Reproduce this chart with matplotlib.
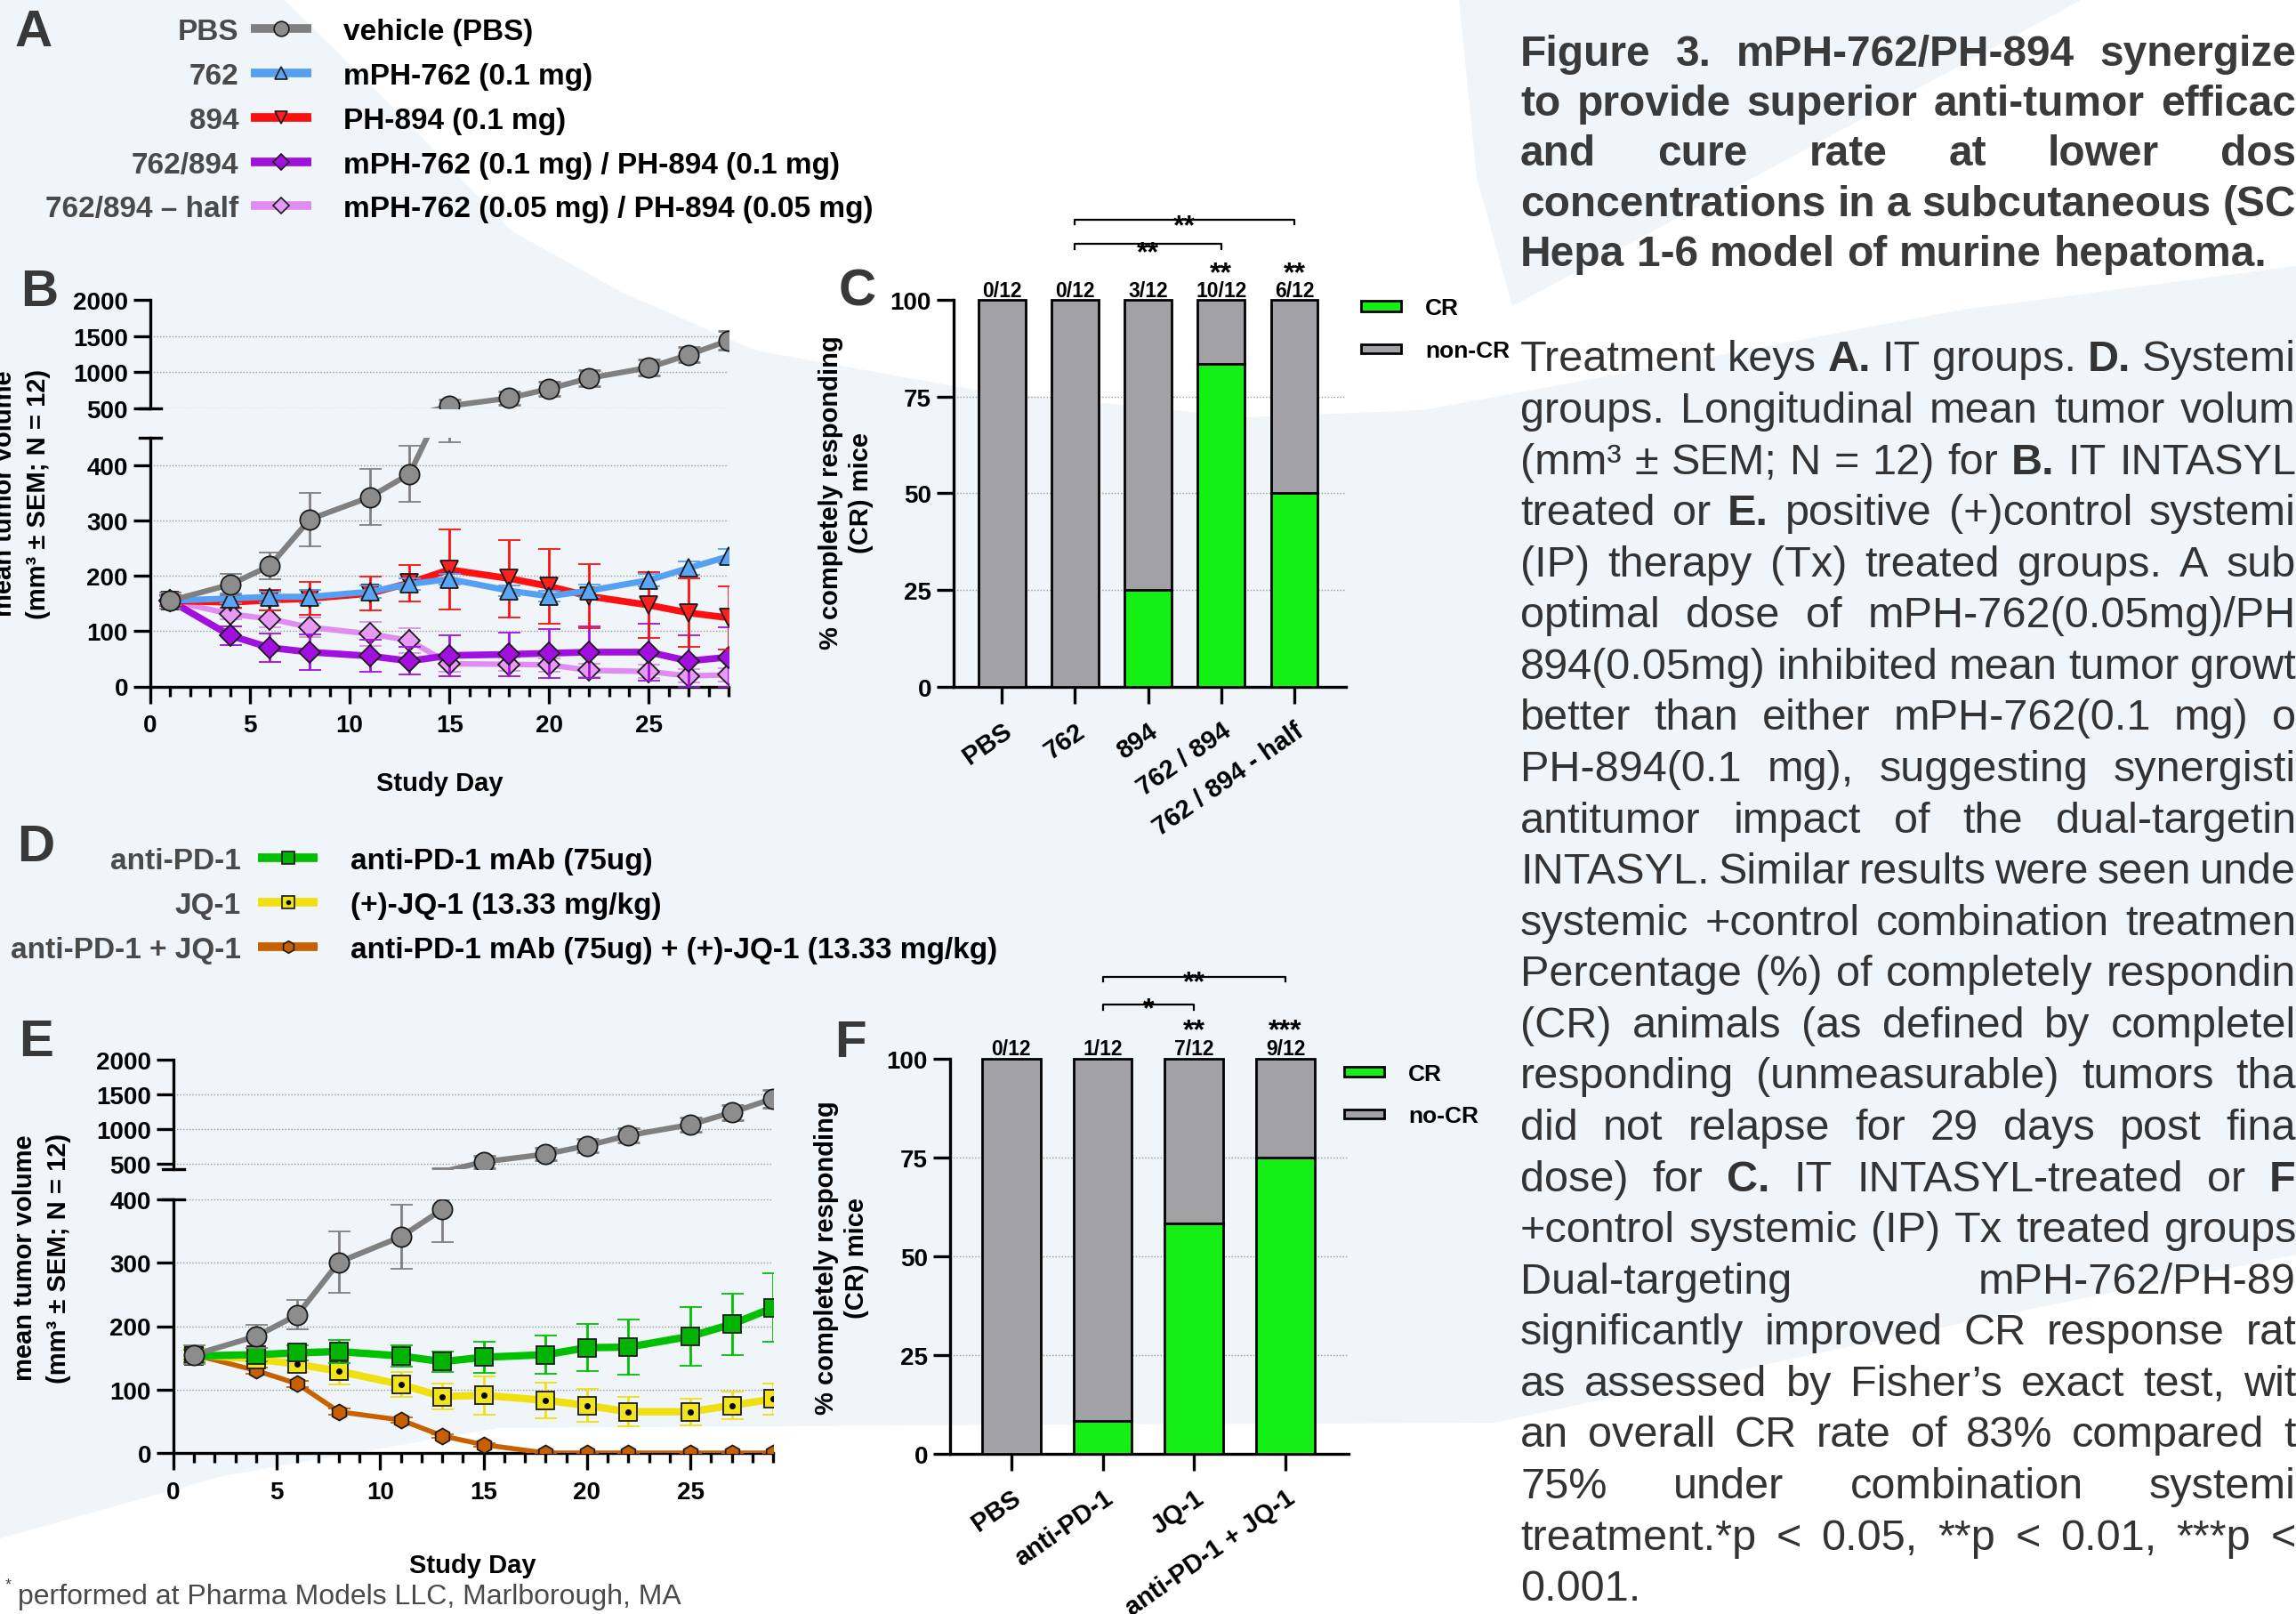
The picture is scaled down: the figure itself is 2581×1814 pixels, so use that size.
import matplotlib
matplotlib.use('Agg')
import matplotlib.pyplot as plt
from matplotlib.lines import Line2D
from matplotlib.patches import Polygon, Rectangle
import numpy as np

plt.rcParams['font.family'] = ['Liberation Sans', 'DejaVu Sans']
plt.rcParams['font.weight'] = 'bold'

# ---------------- data ----------------
days = [1, 4, 6, 8, 11, 13, 15, 18, 20, 22, 25, 27, 29]

# B: IT groups, mean tumor volume (mm3) and SEM
b_pbs = [155, 184, 218, 302, 342, 384, 534, 643, 771, 919, 1066, 1244, 1441]
b_pbs_err = [15, 19, 24, 48, 51, 51, 93, 91, 94, 106, 108, 108, 128]
b_762 = [155, 159, 162, 162, 171, 185, 194, 173, 163, 173, 192, 214, 235]
b_762_err = [8, 9, 10, 12, 11, 10, 10, 10, 10, 11, 11, 12, 13]
b_894 = [155, 152, 156, 159, 168, 187, 211, 195, 181, 163, 147, 133, 124]
b_894_err = [10, 10, 18, 30, 31, 33, 72, 70, 67, 58, 60, 62, 57]
b_combo = [155, 92, 70, 62, 55, 46, 56, 58, 60, 62, 62, 46, 53]
b_combo_err = [10, 17, 25, 32, 29, 25, 37, 40, 44, 46, 52, 47, 54]
b_half = [155, 131, 122, 107, 95, 83, 41, 40, 39, 29, 27, 19, 21]
b_half_err = [10, 10, 15, 18, 22, 22, 14, 12, 12, 12, 12, 12, 12]

# E: systemic groups
e_pbs = [155, 184, 218, 301, 341, 384, 528, 638, 761, 908, 1064, 1239, 1440]
e_pbs_err = [15, 18, 23, 48, 51, 52, 90, 90, 93, 105, 108, 110, 128]
e_pd1 = [153, 155, 158, 160, 153, 144, 151, 155, 166, 167, 184, 203, 229]
e_pd1_err = [10, 11, 12, 18, 17, 16, 25, 30, 37, 44, 46, 48, 54]
e_jq1 = [155, 148, 140, 129, 108, 89, 91, 83, 75, 65, 65, 75, 85]
e_jq1_err = [10, 8, 12, 21, 20, 20, 30, 28, 26, 23, 21, 22, 24]
e_combo = [155, 130, 109, 65, 52, 27, 13, 0, 0, 0, 0, 0, 0]
e_combo_err = [8, 5, 5, 5, 4, 3, 3, 0, 0, 0, 0, 0, 0]

# C / F: % complete responders
c_groups = ['PBS', '762', '894', '762 / 894', '762 / 894 - half']
c_cr = [0, 0, 25, 83.3, 50]
c_counts = ['0/12', '0/12', '3/12', '10/12', '6/12']
c_stars = ['', '', '', '**', '**']
c_pairs = [(1, 3, '**'), (1, 4, '**')]

f_groups = ['PBS', 'anti-PD-1', 'JQ-1', 'anti-PD-1 + JQ-1']
f_cr = [0, 8.3, 58.3, 75]
f_counts = ['0/12', '1/12', '7/12', '9/12']
f_stars = ['', '', '**', '***']
f_pairs = [(1, 2, '*'), (1, 3, '**')]

# treatment keys
a_keys = ['PBS', '762', '894', '762/894', '762/894 \u2013 half']
a_names = ['vehicle (PBS)', 'mPH-762 (0.1 mg)', 'PH-894 (0.1 mg)',
           'mPH-762 (0.1 mg) / PH-894 (0.1 mg)',
           'mPH-762 (0.05 mg) / PH-894 (0.05 mg)']
d_keys = ['anti-PD-1', 'JQ-1', 'anti-PD-1 + JQ-1']
d_names = ['anti-PD-1 mAb (75ug)', '(+)-JQ-1 (13.33 mg/kg)',
           'anti-PD-1 mAb (75ug) + (+)-JQ-1 (13.33 mg/kg)']

title_lines = ['Figure 3. mPH-762/PH-894 synergize',
               'to provide superior anti-tumor efficac',
               'and cure rate at lower dos',
               'concentrations in a subcutaneous (SC',
               'Hepa 1-6 model of murine hepatoma.']
body_lines = ['Treatment keys {A.} IT groups. {D.} Systemi',
              'groups. Longitudinal mean tumor volum',
              '(mm\u00b3 \u00b1 SEM; N = 12) for {B.} IT INTASYL',
              'treated or {E.} positive (+)control systemi',
              '(IP) therapy (Tx) treated groups. A sub',
              'optimal dose of mPH-762(0.05mg)/PH',
              '894(0.05mg) inhibited mean tumor growt',
              'better than either mPH-762(0.1 mg) o',
              'PH-894(0.1 mg), suggesting synergisti',
              'antitumor impact of the dual-targetin',
              'INTASYL. Similar results were seen unde',
              'systemic +control combination treatmen',
              'Percentage (%) of completely respondin',
              '(CR) animals (as defined by completel',
              'responding (unmeasurable) tumors tha',
              'did not relapse for 29 days post fina',
              'dose) for {C.} IT INTASYL-treated or {F}',
              '+control systemic (IP) Tx treated groups',
              'Dual-targeting mPH-762/PH-89',
              'significantly improved CR response rat',
              'as assessed by Fisher\u2019s exact test, wit',
              'an overall CR rate of 83% compared t',
              '75% under combination systemi',
              'treatment.*p < 0.05, **p < 0.01, ***p <',
              '0.001.']

# ---------------- styles ----------------
ST = {
    'pbs': dict(color='#808080', mfc='#8c8c8c', marker='o', ms=16, lw=4.5),
    '762': dict(color='#55a0f2', mfc='#5aa5f5', marker='^', ms=14, lw=5),
    '894': dict(color='#ff1010', mfc='#ff2020', marker='v', ms=14, lw=5.5),
    'combo': dict(color='#a210e0', mfc='#a210e0', marker='D', ms=12, lw=5.5),
    'half': dict(color='#e08cf2', mfc='#e69af4', marker='D', ms=12, lw=4.5),
    'pd1': dict(color='#00c000', mfc='#00b400', marker='s', ms=14, lw=6),
    'jq1': dict(color='#f0e010', mfc='#f2e41a', marker='s', ms=14, lw=6),
    'pdjq': dict(color='#c86000', mfc='#c86000', marker='h', ms=13, lw=4),
}
GREEN = '#14f014'
GREYBAR = '#a2a1a6'
LETTER = '#383838'

W, H = 2581, 1815
fig = plt.figure(figsize=(W / 100, H / 100), dpi=100)
fig.patch.set_facecolor('#eff5f9')


def fx(x):
    return x / W


def fy(y):
    return 1 - y / H


def axes_px(left, top, right, bottom):
    ax = fig.add_axes([fx(left), fy(bottom), (right - left) / W, (bottom - top) / H])
    ax.patch.set_alpha(0)
    return ax


# faint background swooshes
top_white = [(319, 0), (450, 130), (574, 260), (700, 330), (850, 395), (1100, 440),
             (1400, 470), (1600, 462), (1800, 425), (2200, 350), (2581, 300),
             (2581, 0), (2341, 0), (2000, 185), (1700, 345), (1660, 200), (1640, 0)]
bot_white = [(0, 1815), (0, 1730), (250, 1660), (560, 1606), (1000, 1603),
             (1680, 1600), (2100, 1510), (2581, 1411), (2581, 1815)]
for pts in (top_white, bot_white):
    fig.add_artist(Polygon([(fx(x), fy(y)) for x, y in pts], closed=True,
                           transform=fig.transFigure, facecolor='white',
                           edgecolor='none', zorder=-10))


def style_line_axes(top, bot, top_lim, bot_lim, top_ticks, bot_ticks, top_grid, bot_grid):
    for ax in (top, bot):
        ax.set_xlim(0, 29)
        ax.spines['top'].set_visible(False)
        ax.spines['right'].set_visible(False)
        ax.spines['left'].set_linewidth(2.4)
        ax.tick_params(axis='y', length=14, width=2.4, labelsize=20, pad=4)
    top.spines['bottom'].set_visible(False)
    top.set_xticks([])
    top.set_ylim(*top_lim)
    top.set_yticks(top_ticks)
    bot.set_ylim(*bot_lim)
    bot.set_yticks(bot_ticks)
    bot.spines['bottom'].set_linewidth(2.4)
    bot.set_xticks(range(0, 30, 5))
    bot.set_xticks([d for d in range(1, 30) if d % 5], minor=True)
    bot.tick_params(axis='x', which='major', length=14, width=2.4, labelsize=20, pad=8)
    bot.tick_params(axis='x', which='minor', length=8, width=2.4)
    for g in top_grid:
        top.axhline(g, color='#9a9a9a', lw=1, ls=(0, (1, 1.5)), zorder=0.5)
    for g in bot_grid:
        bot.axhline(g, color='#9a9a9a', lw=1, ls=(0, (1, 1.5)), zorder=0.5)


def plot_series(top, bot, y, err, st, z):
    kw = dict(color=st['color'], ecolor=st['color'], elinewidth=2, capsize=9, capthick=2)
    mk = dict(marker=st['marker'], ms=st['ms'], mfc=st['mfc'], mec='#1a1a1a', mew=1.3)
    bot.errorbar(days, y, yerr=err, lw=st['lw'], zorder=z, **kw, **mk)
    # upper (broken) axis: line + bars everywhere, markers only where the point lies inside
    top.errorbar(days, y, yerr=err, lw=st['lw'], zorder=z, **kw)
    lo = top.get_ylim()[0]
    dx = [d for d, v in zip(days, y) if v >= lo]
    dy = [v for v in y if v >= lo]
    top.plot(dx, dy, ls='none', zorder=z + 0.1, **mk)


def break_mark(x, y):
    fig.add_artist(Line2D([fx(x - 12), fx(x + 12)], [fy(y), fy(y)], color='k', lw=2.4))


# ---------------- panel B ----------------
bt = axes_px(169, 338.4, 819, 460)
bb = axes_px(169, 492.6, 819, 772.5)
style_line_axes(bt, bb, (500, 2000), (0, 450), [500, 1000, 1500, 2000], [0, 100, 200, 300, 400],
                [500, 1000, 1500], [100, 200, 300, 400])
plot_series(bt, bb, b_half, b_half_err, ST['half'], 3)
plot_series(bt, bb, b_combo, b_combo_err, ST['combo'], 4)
plot_series(bt, bb, b_894, b_894_err, ST['894'], 5)
plot_series(bt, bb, b_762, b_762_err, ST['762'], 6)
plot_series(bt, bb, b_pbs, b_pbs_err, ST['pbs'], 7)
break_mark(169, 460)
break_mark(169, 492.6)
fig.text(fx(494), fy(881), 'Study Day', ha='center', va='center', fontsize=21)
fig.text(fx(24), fy(555), 'mean tumor volume\n(mm\u00b3 \u00b1 SEM; N = 12)', rotation=90,
         ha='center', va='center', ma='center', fontsize=21, linespacing=1.45)

# ---------------- panel E ----------------
et = axes_px(195, 1192, 869, 1315)
eb = axes_px(195, 1349, 869, 1634)
style_line_axes(et, eb, (423, 2000), (0, 400), [500, 1000, 1500, 2000], [0, 100, 200, 300, 400],
                [500, 1000, 1500], [100, 200, 300, 400])
plot_series(et, eb, e_combo, e_combo_err, ST['pdjq'], 3)
plot_series(et, eb, e_jq1, e_jq1_err, ST['jq1'], 4)
eb.plot(days, e_jq1, ls='none', marker='o', ms=4, color='k', zorder=4.5)
plot_series(et, eb, e_pd1, e_pd1_err, ST['pd1'], 5)
plot_series(et, eb, e_pbs, e_pbs_err, ST['pbs'], 7)
break_mark(195, 1315)
break_mark(195, 1349)
fig.text(fx(531), fy(1760), 'Study Day', ha='center', va='center', fontsize=21)
fig.text(fx(47), fy(1414), 'mean tumor volume\n(mm\u00b3 \u00b1 SEM; N = 12)', rotation=90,
         ha='center', va='center', ma='center', fontsize=21, linespacing=1.45)


# ---------------- bar panels ----------------
def bar_panel(ax, groups, cr, counts, stars, pairs, xlim, levels):
    x = np.arange(len(groups))
    cr = np.array(cr, dtype=float)
    ax.bar(x, cr, width=0.64, color=GREEN, edgecolor='k', linewidth=2, zorder=3, clip_on=False)
    ax.bar(x, 100 - cr, bottom=cr, width=0.64, color=GREYBAR, edgecolor='k', linewidth=2,
           zorder=3, clip_on=False)
    ax.set_xlim(*xlim)
    ax.set_ylim(0, 100)
    for g in (25, 50, 75):
        ax.axhline(g, color='#9a9a9a', lw=1, ls=(0, (1, 1.5)), zorder=1)
    for s in ('top', 'right'):
        ax.spines[s].set_visible(False)
    ax.spines['left'].set_linewidth(2.4)
    ax.spines['bottom'].set_linewidth(2.4)
    ax.set_yticks([0, 25, 50, 75, 100])
    ax.set_xticks(x)
    ax.set_xticklabels(groups, rotation=35, ha='right', rotation_mode='anchor', fontsize=21)
    ax.tick_params(axis='y', length=14, width=2.4, labelsize=20, pad=4)
    ax.tick_params(axis='x', length=14, width=2.4, pad=11)
    cnt_y, star_y, br = levels
    for xi, c, s in zip(x, counts, stars):
        ax.text(xi, cnt_y, c, ha='center', va='baseline', fontsize=16.5, clip_on=False)
        if s:
            ax.text(xi, star_y, s, ha='center', va='baseline', fontsize=23, clip_on=False)
    for (i, j, s), (ly, sy) in zip(pairs, br):
        ax.plot([i, i, j, j], [ly - 1.3, ly, ly, ly - 1.3], color='k', lw=1.6, clip_on=False)
        ax.text((i + j) / 2, sy, s, ha='center', va='baseline', fontsize=23, clip_on=False)


axc = axes_px(1072, 337.7, 1512.5, 773)
bar_panel(axc, c_groups, c_cr, c_counts, c_stars, c_pairs, (-0.66, 4.7),
          (100.9, 105.0, [(114.4, 110.3), (120.65, 117.0)]))
fig.text(fx(951), fy(554), '% completely responding\n(CR) mice', rotation=90,
         ha='center', va='center', ma='center', fontsize=21, linespacing=1.3)

axf = axes_px(1068, 1191, 1516, 1635)
bar_panel(axf, f_groups, f_cr, f_counts, f_stars, f_pairs, (-0.67, 3.69),
          (101.1, 105.4, [(113.8, 110.7), (120.8, 117.5)]))
fig.text(fx(946), fy(1414), '% completely responding\n(CR) mice', rotation=90,
         ha='center', va='center', ma='center', fontsize=21, linespacing=1.3)


def bar_legend(x0, x1, rows, labels):
    for (top, bot), lab, col in zip(rows, labels, (GREEN, GREYBAR)):
        fig.add_artist(Rectangle((fx(x0), fy(bot)), (x1 - x0) / W, (bot - top) / H,
                                 transform=fig.transFigure, facecolor=col,
                                 edgecolor='k', lw=2))
        fig.text(fx(x1 + 27), fy((top + bot) / 2), lab, ha='left', va='center_baseline',
                 fontsize=19)


bar_legend(1530, 1575, [(339, 351), (388, 398)], ['CR', 'non-CR'])
bar_legend(1511, 1556, [(1200, 1211), (1248, 1258)], ['CR', 'no-CR'])


# ---------------- treatment keys ----------------
def key_rows(ys, keys, names, sts, x_key, x0, x1, x_name):
    for y, k, n, st in zip(ys, keys, names, sts):
        fig.text(fx(x_key), fy(y), k, ha='right', va='center_baseline', fontsize=24,
                 color='#4a4a4a')
        fig.add_artist(Line2D([fx(x0), fx(x1)], [fy(y), fy(y)], color=st['color'], lw=7,
                              solid_capstyle='butt'))
        fig.add_artist(Line2D([fx((x0 + x1) / 2)], [fy(y)], marker=st['marker'],
                              ms=st['ms'] * 0.75, mfc=st['mfc'], mec='#1a1a1a', mew=1.2))
        fig.text(fx(x_name), fy(y), n, ha='left', va='center_baseline', fontsize=24, color='k')


key_rows([33, 83, 133, 183, 232], a_keys, a_names,
         [ST['pbs'], ST['762'], ST['894'], ST['combo'], ST['half']], 268, 282, 350, 386)
key_rows([965, 1015, 1065], d_keys, d_names, [ST['pd1'], ST['jq1'], ST['pdjq']],
         271, 290, 357, 394)
fig.add_artist(Line2D([fx(323.5)], [fy(1015)], marker='o', ms=3, color='k'))

# panel letters
for lab, x, y in [('A', 38, 37), ('B', 44, 329), ('C', 964, 329), ('D', 40, 953),
                  ('E', 41, 1172), ('F', 956, 1173)]:
    fig.text(fx(x), fy(y), lab, ha='center', va='center', fontsize=42, color=LETTER)

# ---------------- caption text ----------------
X0, X1 = 1709, 2581
renderer = fig.canvas.get_renderer()


def put_line(y, line, size, weight, color, justify):
    arts = []
    for tok in line.split(' '):
        bold = tok.startswith('{') and tok.endswith('}')
        word = tok[1:-1] if bold else tok
        arts.append(fig.text(0, fy(y), word, fontsize=size,
                             fontweight='bold' if bold else weight,
                             color=color, ha='left', va='baseline'))
    widths = [a.get_window_extent(renderer=renderer).width for a in arts]
    if justify and len(arts) > 1:
        gap = (X1 - X0 - sum(widths)) / (len(arts) - 1)
    else:
        gap = 0.278 * size * 100 / 72
    x = X0
    for a, w in zip(arts, widths):
        a.set_x(fx(x))
        x += w + gap


for i, line in enumerate(title_lines):
    put_line(73.7 + i * 56.3, line, 34.5, 'bold', '#3a3a3a', i < len(title_lines) - 1)
for i, line in enumerate(body_lines):
    put_line(417.4 + i * 57.57, line, 35, 'normal', '#333333', i < len(body_lines) - 1)

# footnote
fig.text(fx(6), fy(1786), '*', fontsize=13, fontweight='normal', color='#4a4a4a')
fig.text(fx(20), fy(1803), 'performed at Pharma Models LLC, Marlborough, MA', fontsize=23,
         fontweight='normal', color='#4a4a4a', va='baseline')

fig.savefig('out.png', dpi=100, facecolor=fig.get_facecolor())
